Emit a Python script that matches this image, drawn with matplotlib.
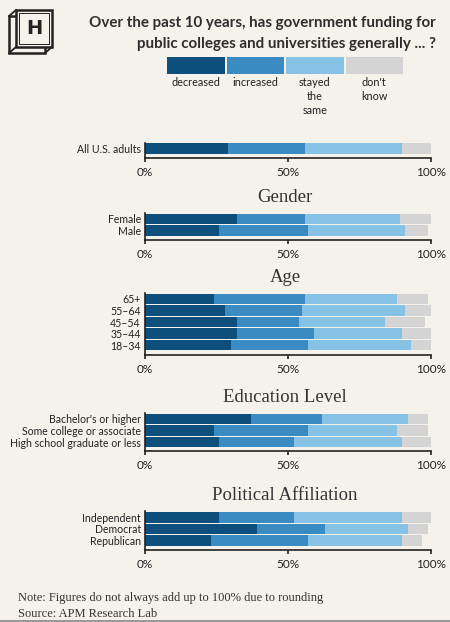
import matplotlib
matplotlib.use('Agg')
from matplotlib import pyplot as plt
from matplotlib.patches import Rectangle
import numpy as np

# answer categories and colours
categories = ['decreased', 'increased', 'stayed\nthe\nsame', "don't\nknow"]
colors = ['#0d4f7c', '#3a8bc1', '#86c1e6', '#d4d4d4']

all_labels = ['All U.S. adults']
all_decreased = [29]
all_increased = [27]
all_same = [34]
all_dk = [10]

gender_labels = ['Female', 'Male']
gender_decreased = [32, 26]
gender_increased = [24, 31]
gender_same = [33, 34]
gender_dk = [11, 8]

age_labels = ['65+', '55–64', '45–54', '35–44', '18–34']
age_decreased = [24, 28, 32, 32, 30]
age_increased = [32, 27, 22, 27, 27]
age_same = [32, 36, 30, 31, 36]
age_dk = [11, 9, 14, 10, 7]

edu_labels = ["Bachelor's or higher", 'Some college or associate', 'High school graduate or less']
edu_decreased = [37, 24, 26]
edu_increased = [25, 33, 26]
edu_same = [30, 31, 38]
edu_dk = [7, 11, 10]

party_labels = ['Independent', 'Democrat', 'Republican']
party_decreased = [26, 39, 23]
party_increased = [26, 24, 34]
party_same = [38, 29, 33]
party_dk = [10, 7, 7]

W, H = 450, 622
bg = '#f5f2ec'
ink = '#222222'
sans = 'Lato'
serif = 'Liberation Serif'

fig = plt.figure(figsize=(W / 100, H / 100), dpi=100, facecolor=bg)

# overlay in pixel units for logo, title and legend
deco = fig.add_axes([0, 0, 1, 1])
deco.set_xlim(0, W)
deco.set_ylim(H, 0)
deco.axis('off')

# logo: box with an H
deco.add_patch(Rectangle((9, 16), 36, 37, fill=False, lw=1.8, ec=ink))
for (x1, y1) in [(16, 10), (52, 47), (16, 47)]:
    deco.plot([x1, x1 - 7], [y1, y1 + 6], color=ink, lw=1.3)
deco.add_patch(Rectangle((16, 10), 36, 37, fc=bg, lw=1.8, ec=ink))
deco.add_patch(Rectangle((19, 13), 30, 31, fill=False, lw=0.7, ec=ink))
deco.text(34, 29, 'H', fontsize=14, fontweight='bold', family='DejaVu Sans',
          ha='center', va='center', color=ink)

deco.text(436, 33.5, 'Over the past 10 years, has government funding for\n'
          'public colleges and universities generally ... ?',
          ha='right', va='center', multialignment='right', linespacing=1.6,
          fontsize=10.9, fontweight='bold', family=sans, color='#2e2e2e')

# legend
lx, lw_, gap = 167, 57.5, 2
for i, (cat, c) in enumerate(zip(categories, colors)):
    x = lx + i * (lw_ + gap)
    deco.add_patch(Rectangle((x, 57), lw_, 16.5, fc=c, ec='none'))
    deco.text(x + lw_ / 2, 77, cat, ha='center', va='top', fontsize=7.8,
              family=sans, color=ink, linespacing=1.35)

deco.plot([0, W], [621, 621], color='#9a9a9a', lw=1.5)

x0, xw = 145, 286
row, pad = 11.6, 3.5


def draw_panel(top, labels, parts, title=None, title_y=None):
    n = len(labels)
    h = n * row + pad
    ax = fig.add_axes([x0 / W, 1 - (top + h) / H, xw / W, h / H])
    ax.set_facecolor('none')
    y = np.arange(n)
    left = np.zeros(n)
    for vals, c in zip(parts, colors):
        ax.barh(y, vals, left=left, height=0.9, color=c)
        left += np.array(vals)
    ax.set_xlim(0, 100)
    ax.set_ylim(n - 0.5 + pad / row, -0.5)
    ax.set_yticks(y)
    ax.set_yticklabels(labels, family=sans, fontsize=7.6, color=ink)
    ax.set_xticks([0, 50, 100])
    ax.set_xticklabels(['0%', '50%', '100%'], family=sans, fontsize=8.5, color=ink)
    ax.tick_params(axis='y', length=0, pad=3)
    ax.tick_params(axis='x', length=3, width=1.2, pad=3.5, color=ink)
    for s in ['top', 'right']:
        ax.spines[s].set_visible(False)
    for s in ['left', 'bottom']:
        ax.spines[s].set_color(ink)
        ax.spines[s].set_linewidth(1.2)
    if title:
        fig.text(285 / W, 1 - title_y / H, title, ha='center', va='center',
                 family=serif, fontsize=13.5, color='#333333')
    return ax


draw_panel(142.5, all_labels, [all_decreased, all_increased, all_same, all_dk])
draw_panel(213, gender_labels, [gender_decreased, gender_increased, gender_same, gender_dk],
           'Gender', 198)
draw_panel(293, age_labels, [age_decreased, age_increased, age_same, age_dk],
           'Age', 277)
draw_panel(413, edu_labels, [edu_decreased, edu_increased, edu_same, edu_dk],
           'Education Level', 398)
draw_panel(511.5, party_labels, [party_decreased, party_increased, party_same, party_dk],
           'Political Affiliation', 495)

fig.text(18 / W, 1 - 598 / H, 'Note: Figures do not always add up to 100% due to rounding',
         family=serif, fontsize=9, color='#333333', va='center')
fig.text(18 / W, 1 - 614 / H, 'Source: APM Research Lab',
         family=serif, fontsize=9, color='#333333', va='center')

fig.savefig('out.png', dpi=100, facecolor=bg)
